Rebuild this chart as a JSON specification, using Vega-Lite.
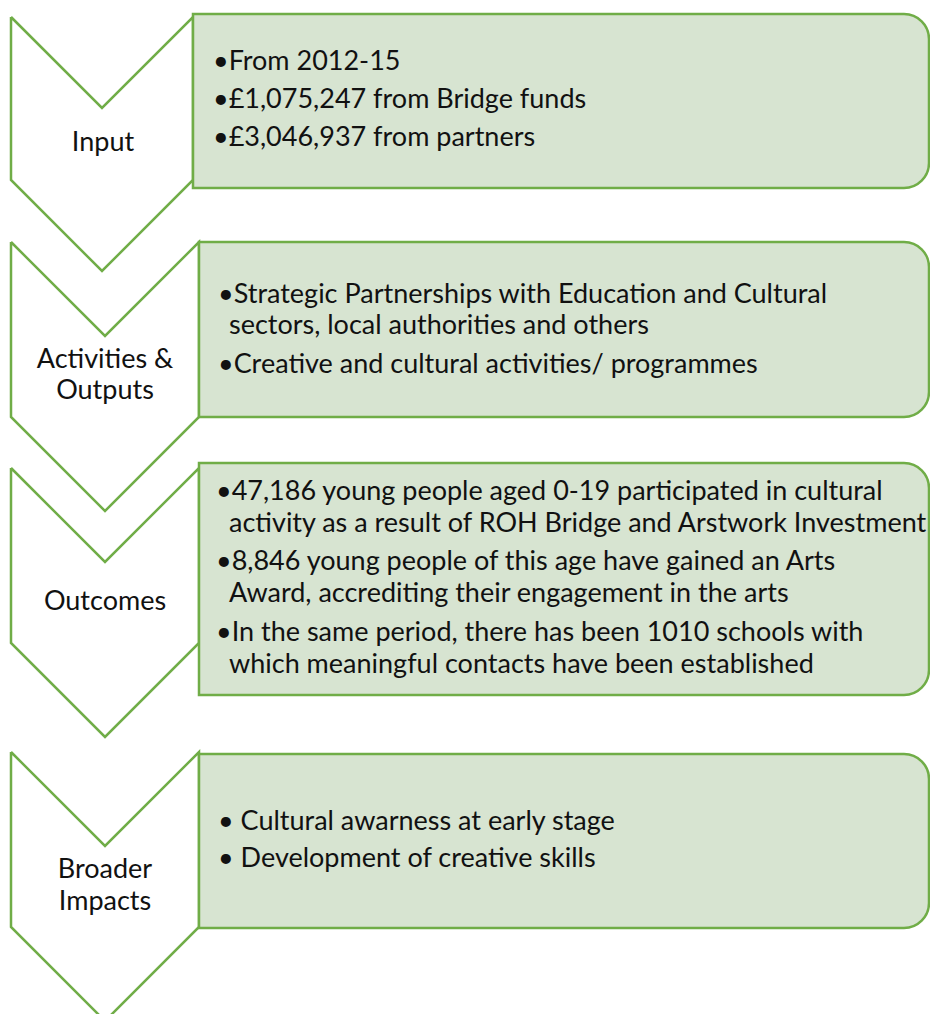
{
  "$schema": "https://vega.github.io/schema/vega-lite/v6.json",
  "width": 930,
  "height": 1014,
  "autosize": "none",
  "padding": 0,
  "background": "white",
  "config": {"view": {"stroke": null}},
  "datasets": {
    "chevrons": [
      {"stage": "Input", "i": 0, "px": 11, "py": 17},
      {"stage": "Input", "i": 1, "px": 102, "py": 108},
      {"stage": "Input", "i": 2, "px": 193, "py": 17},
      {"stage": "Input", "i": 3, "px": 193, "py": 180},
      {"stage": "Input", "i": 4, "px": 102, "py": 271},
      {"stage": "Input", "i": 5, "px": 11, "py": 180},
      {"stage": "Input", "i": 6, "px": 11, "py": 17},
      {"stage": "Activities", "i": 0, "px": 11, "py": 242},
      {"stage": "Activities", "i": 1, "px": 105, "py": 336},
      {"stage": "Activities", "i": 2, "px": 199, "py": 242},
      {"stage": "Activities", "i": 3, "px": 199, "py": 417},
      {"stage": "Activities", "i": 4, "px": 105, "py": 511},
      {"stage": "Activities", "i": 5, "px": 11, "py": 417},
      {"stage": "Activities", "i": 6, "px": 11, "py": 242},
      {"stage": "Outcomes", "i": 0, "px": 11, "py": 468},
      {"stage": "Outcomes", "i": 1, "px": 105, "py": 562},
      {"stage": "Outcomes", "i": 2, "px": 199, "py": 468},
      {"stage": "Outcomes", "i": 3, "px": 199, "py": 643},
      {"stage": "Outcomes", "i": 4, "px": 105, "py": 737},
      {"stage": "Outcomes", "i": 5, "px": 11, "py": 643},
      {"stage": "Outcomes", "i": 6, "px": 11, "py": 468},
      {"stage": "Broader", "i": 0, "px": 11, "py": 752},
      {"stage": "Broader", "i": 1, "px": 105, "py": 846},
      {"stage": "Broader", "i": 2, "px": 199, "py": 752},
      {"stage": "Broader", "i": 3, "px": 199, "py": 927},
      {"stage": "Broader", "i": 4, "px": 105, "py": 1021},
      {"stage": "Broader", "i": 5, "px": 11, "py": 927},
      {"stage": "Broader", "i": 6, "px": 11, "py": 752}
    ],
    "boxes": [
      {"stage": "Input", "x0": 193, "x1": 929, "y0": 14, "y1": 188},
      {"stage": "Activities", "x0": 199, "x1": 929, "y0": 242, "y1": 417},
      {"stage": "Outcomes", "x0": 199, "x1": 929, "y0": 463, "y1": 695},
      {"stage": "Broader", "x0": 199, "x1": 929, "y0": 754, "y1": 928}
    ],
    "body": [
      {"tx": 213, "ty": 62, "label": "•From 2012-15"},
      {"tx": 213, "ty": 100, "label": "•£1,075,247 from Bridge funds"},
      {"tx": 213, "ty": 138, "label": "•£3,046,937 from partners"},
      {"tx": 218, "ty": 295, "label": "•Strategic Partnerships with Education and Cultural"},
      {"tx": 229, "ty": 326, "label": "sectors, local authorities and others"},
      {"tx": 218, "ty": 365, "label": "•Creative and cultural activities/ programmes"},
      {"tx": 216, "ty": 492, "label": "•47,186 young people aged 0-19 participated in cultural"},
      {"tx": 229, "ty": 524, "label": "activity as a result of ROH Bridge and Arstwork Investment"},
      {"tx": 216, "ty": 562, "label": "•8,846 young people of this age have gained an Arts"},
      {"tx": 229, "ty": 594, "label": "Award, accrediting their engagement in the arts"},
      {"tx": 216, "ty": 633, "label": "•In the same period, there has been 1010 schools with"},
      {"tx": 229, "ty": 665, "label": "which meaningful contacts have been established"},
      {"tx": 218, "ty": 822, "label": "• Cultural awarness at early stage"},
      {"tx": 218, "ty": 859, "label": "• Development of creative skills"}
    ],
    "labels": [
      {"tx": 103, "ty": 143, "label": "Input"},
      {"tx": 105, "ty": 360, "label": "Activities &"},
      {"tx": 105, "ty": 391, "label": "Outputs"},
      {"tx": 105, "ty": 602, "label": "Outcomes"},
      {"tx": 105, "ty": 870, "label": "Broader"},
      {"tx": 105, "ty": 902, "label": "Impacts"}
    ]
  },
  "layer": [
    {
      "data": {"name": "chevrons"},
      "mark": {"type": "line", "stroke": "#70ad47", "strokeWidth": 2.5, "clip": true, "strokeJoin": "miter"},
      "encoding": {
        "x": {"field": "px", "type": "quantitative", "scale": {"domain": [0, 930], "nice": false, "zero": false}, "axis": null},
        "y": {"field": "py", "type": "quantitative", "scale": {"domain": [0, 1014], "reverse": true, "nice": false, "zero": false}, "axis": null},
        "detail": {"field": "stage"},
        "order": {"field": "i", "type": "quantitative"}
      }
    },
    {
      "data": {"name": "boxes"},
      "mark": {"type": "rect", "fill": "#d7e4d1", "stroke": "#70ad47", "strokeWidth": 2.5, "cornerRadiusTopRight": 25, "cornerRadiusBottomRight": 25},
      "encoding": {
        "x": {"field": "x0", "type": "quantitative"},
        "x2": {"field": "x1"},
        "y": {"field": "y0", "type": "quantitative"},
        "y2": {"field": "y1"}
      }
    },
    {
      "data": {"name": "body"},
      "mark": {"type": "text", "align": "left", "baseline": "middle", "font": "Lato", "fontSize": 27, "color": "#111111"},
      "encoding": {
        "x": {"field": "tx", "type": "quantitative"},
        "y": {"field": "ty", "type": "quantitative"},
        "text": {"field": "label"}
      }
    },
    {
      "data": {"name": "labels"},
      "mark": {"type": "text", "align": "center", "baseline": "middle", "font": "Lato", "fontSize": 27, "color": "#111111"},
      "encoding": {
        "x": {"field": "tx", "type": "quantitative"},
        "y": {"field": "ty", "type": "quantitative"},
        "text": {"field": "label"}
      }
    }
  ]
}
